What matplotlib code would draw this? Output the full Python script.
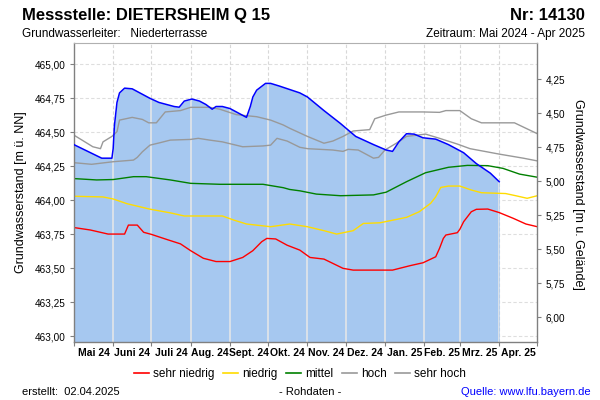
import matplotlib
matplotlib.use("Agg")
import matplotlib.pyplot as plt
import pandas as pd
from matplotlib.lines import Line2D
from matplotlib.ticker import FixedLocator, FuncFormatter, NullFormatter

plt.rcParams['font.family'] = ['Liberation Sans', 'DejaVu Sans']

# ---------------- data ----------------
mess_dates = ["2024-05-01", "2024-05-23", "2024-05-31", "2024-06-01", "2024-06-02", "2024-06-04",
              "2024-06-06", "2024-06-10", "2024-06-16", "2024-06-24", "2024-06-30", "2024-07-07",
              "2024-07-19", "2024-07-23", "2024-07-27", "2024-08-02", "2024-08-08", "2024-08-13",
              "2024-08-18", "2024-08-21", "2024-08-26", "2024-09-01", "2024-09-06", "2024-09-12",
              "2024-09-14", "2024-09-17", "2024-09-19", "2024-09-22", "2024-09-29", "2024-10-03",
              "2024-10-10", "2024-10-18", "2024-10-26", "2024-11-01", "2024-11-14", "2024-11-27",
              "2024-12-09", "2024-12-23", "2025-01-02", "2025-01-07", "2025-01-12", "2025-01-18",
              "2025-01-24", "2025-01-31", "2025-02-10", "2025-02-20", "2025-03-04", "2025-03-14",
              "2025-03-25", "2025-04-01"]
mess_values = [464.41, 464.31, 464.31, 464.38, 464.55, 464.72,
               464.79, 464.825, 464.82, 464.78, 464.75, 464.72,
               464.69, 464.685, 464.73, 464.745, 464.73, 464.705,
               464.67, 464.69, 464.69, 464.675, 464.65, 464.62,
               464.61, 464.69, 464.76, 464.81, 464.86, 464.86,
               464.84, 464.815, 464.79, 464.76, 464.66, 464.565,
               464.47, 464.41, 464.37, 464.36, 464.43, 464.49,
               464.487, 464.46, 464.45, 464.41, 464.35, 464.27,
               464.20, 464.137]

sehr_hoch_dates = ["2024-05-01", "2024-05-08", "2024-05-16", "2024-05-22", "2024-05-24", "2024-05-31",
                   "2024-06-04", "2024-06-06", "2024-06-16", "2024-06-24", "2024-06-29", "2024-07-05",
                   "2024-07-12", "2024-07-24", "2024-08-01", "2024-08-16", "2024-08-24", "2024-09-06",
                   "2024-09-22", "2024-10-03", "2024-10-13", "2024-10-18", "2024-11-01", "2024-11-14",
                   "2024-11-21", "2024-11-29", "2024-12-07", "2024-12-20", "2024-12-24", "2025-01-02",
                   "2025-01-12", "2025-01-31", "2025-02-13", "2025-02-18", "2025-03-01", "2025-03-10",
                   "2025-03-18", "2025-04-13", "2025-05-01"]
sehr_hoch_values = [464.48, 464.44, 464.394, 464.38, 464.43, 464.47,
                    464.505, 464.59, 464.61, 464.595, 464.57, 464.57,
                    464.65, 464.66, 464.684, 464.684, 464.67, 464.63,
                    464.615, 464.59, 464.554, 464.53, 464.47, 464.42,
                    464.436, 464.47, 464.51, 464.52, 464.60, 464.627,
                    464.65, 464.65, 464.647, 464.66, 464.66, 464.60,
                    464.57, 464.57, 464.49]

hoch_dates = ["2024-05-01", "2024-05-15", "2024-06-01", "2024-06-17", "2024-06-20", "2024-06-24",
              "2024-06-30", "2024-07-08", "2024-07-16", "2024-08-01", "2024-08-07", "2024-08-16",
              "2024-08-26", "2024-09-11", "2024-09-27", "2024-10-03", "2024-10-08", "2024-10-16",
              "2024-10-26", "2024-11-01", "2024-11-21", "2024-11-29", "2024-12-03", "2024-12-11",
              "2024-12-23", "2024-12-27", "2025-01-01", "2025-01-10", "2025-01-18", "2025-02-02",
              "2025-02-13", "2025-02-27", "2025-03-09", "2025-04-01", "2025-04-20", "2025-05-01"]
hoch_values = [464.277, 464.265, 464.284, 464.296, 464.316, 464.357,
               464.406, 464.424, 464.443, 464.448, 464.456, 464.443,
               464.43, 464.394, 464.40, 464.406, 464.456, 464.436,
               464.39, 464.38, 464.37, 464.36, 464.375, 464.37,
               464.31, 464.316, 464.37, 464.42, 464.47, 464.487,
               464.456, 464.414, 464.38, 464.34, 464.31, 464.29]

mittel_dates = ["2024-05-01", "2024-05-19", "2024-06-01", "2024-06-17", "2024-06-27", "2024-07-16",
                "2024-08-01", "2024-08-24", "2024-09-27", "2024-10-13", "2024-10-18", "2024-10-26",
                "2024-11-08", "2024-11-27", "2024-12-23", "2025-01-02", "2025-01-18", "2025-02-02",
                "2025-02-20", "2025-03-07", "2025-03-23", "2025-04-04", "2025-04-17", "2025-05-01"]
mittel_values = [464.16, 464.15, 464.153, 464.174, 464.174, 464.15,
                 464.125, 464.118, 464.118, 464.093, 464.08, 464.07,
                 464.046, 464.034, 464.04, 464.06, 464.137, 464.203,
                 464.243, 464.257, 464.255, 464.235, 464.193, 464.17]

niedrig_dates = ["2024-05-01", "2024-05-24", "2024-06-01", "2024-06-12", "2024-06-30", "2024-07-16",
                 "2024-07-27", "2024-08-26", "2024-09-04", "2024-09-14", "2024-10-03", "2024-10-18",
                 "2024-11-01", "2024-11-14", "2024-11-24", "2024-12-07", "2024-12-15", "2024-12-28",
                 "2025-01-05", "2025-01-18", "2025-01-28", "2025-02-06", "2025-02-10", "2025-02-14",
                 "2025-02-20", "2025-03-01", "2025-03-10", "2025-03-18", "2025-04-06", "2025-04-14",
                 "2025-04-23", "2025-05-01"]
niedrig_values = [464.03, 464.025, 464.01, 463.975, 463.935, 463.908,
                  463.885, 463.885, 463.855, 463.826, 463.806, 463.826,
                  463.806, 463.777, 463.752, 463.777, 463.83, 463.835,
                  463.85, 463.875, 463.916, 463.978, 464.026, 464.095,
                  464.105, 464.105, 464.076, 464.056, 464.05, 464.034,
                  464.015, 464.034]

sehr_niedrig_dates = ["2024-05-01", "2024-05-14", "2024-05-28", "2024-06-10", "2024-06-13", "2024-06-20",
                      "2024-06-25", "2024-07-01", "2024-07-13", "2024-07-24", "2024-08-01", "2024-08-11",
                      "2024-08-21", "2024-09-01", "2024-09-11", "2024-09-19", "2024-09-26", "2024-09-30",
                      "2024-10-07", "2024-10-16", "2024-10-26", "2024-11-03", "2024-11-14", "2024-11-29",
                      "2024-12-07", "2025-01-07", "2025-01-21", "2025-01-31", "2025-02-10", "2025-02-13",
                      "2025-02-16", "2025-02-18", "2025-02-27", "2025-03-01", "2025-03-04", "2025-03-10",
                      "2025-03-14", "2025-03-23", "2025-04-01", "2025-04-12", "2025-04-22", "2025-05-01"]
sehr_niedrig_values = [463.80, 463.782, 463.752, 463.752, 463.818, 463.818,
                       463.765, 463.75, 463.713, 463.68, 463.63, 463.574,
                       463.55, 463.55, 463.58, 463.63, 463.696, 463.72,
                       463.716, 463.67, 463.634, 463.58, 463.568, 463.50,
                       463.487, 463.487, 463.52, 463.541, 463.585, 463.647,
                       463.72, 463.745, 463.762, 463.787, 463.843, 463.916,
                       463.934, 463.936, 463.91, 463.868, 463.826, 463.806]

month_labels = ["Mai 24", "Juni 24", "Juli 24", "Aug. 24", "Sept. 24", "Okt. 24",
                "Nov. 24", "Dez. 24", "Jan. 25", "Feb. 25", "Mrz. 25", "Apr. 25"]
left_ticks = [463.00, 463.25, 463.50, 463.75, 464.00, 464.25, 464.50, 464.75, 465.00]
right_ticks = [4.25, 4.50, 4.75, 5.00, 5.25, 5.50, 5.75, 6.00]
gelaende = 469.14  # Geländehöhe [m ü. NN]
legend_labels = ["sehr niedrig", "niedrig", "mittel", "hoch", "sehr hoch"]

# ---------------- styling ----------------
W, H = 600, 400
fig = plt.figure(figsize=(6, 4), dpi=100)
x0, x1, ytop, ybot = 73.8, 537.3, 43, 341.5
ax = fig.add_axes([x0 / W, 1 - ybot / H, (x1 - x0) / W, (ybot - ytop) / H])

ymin, ymax = 462.962, 465.157
start, end = pd.Timestamp("2024-05-01"), pd.Timestamp("2025-05-01")
bounds = pd.date_range(start, end, freq="MS")
mids = [bounds[i] + (bounds[i + 1] - bounds[i]) / 2 for i in range(len(bounds) - 1)]

def fmt(v, pos=None):
    return f"{v:.2f}".replace(".", ",")

# dashed grid
for t in left_ticks:
    ax.axhline(t, color="#dedede", lw=0.8, ls=(0, (3, 2)), zorder=0.5)
for b in bounds[1:-1]:
    ax.axvline(b, color="#d8d8d8", lw=0.8, ls=(0, (3, 2)), zorder=0.5)

md = pd.to_datetime(mess_dates)
poly = ax.fill_between(md, mess_values, ymin - 1, color="#a6c8f0", lw=0, zorder=1)
clip = poly.get_paths()[0]
for b in bounds[1:-1]:
    ln = ax.axvline(b, color="#e8e8e8", lw=1.1, zorder=1.5)
    ln.set_clip_path(clip, ax.transData)

series = [
    (sehr_niedrig_dates, sehr_niedrig_values, "#ff0000"),
    (niedrig_dates, niedrig_values, "#ffdc00"),
    (mittel_dates, mittel_values, "#008000"),
    (hoch_dates, hoch_values, "#999999"),
    (sehr_hoch_dates, sehr_hoch_values, "#999999"),
]
for d, v, c in series:
    ax.plot(pd.to_datetime(d), v, color=c, lw=1.0, zorder=2)
ax.plot(md, mess_values, color="#0000ff", lw=1.1, zorder=3)

ax.set_xlim(start, end)
ax.set_ylim(ymin, ymax)

ax.xaxis.set_major_locator(FixedLocator([matplotlib.dates.date2num(m) for m in mids]))
ax.xaxis.set_major_formatter(FuncFormatter(lambda v, p: month_labels[p] if p is not None and p < len(month_labels) else ""))
ax.xaxis.set_minor_locator(FixedLocator([matplotlib.dates.date2num(b) for b in bounds]))
ax.xaxis.set_minor_formatter(NullFormatter())
ax.tick_params(axis="x", which="major", length=0, pad=5, labelsize=7.5)
ax.tick_params(axis="x", which="minor", length=3, width=0.8, color="#808080")
for lab in ax.get_xticklabels():
    lab.set_fontweight("bold")

ax.yaxis.set_major_locator(FixedLocator(left_ticks))
ax.yaxis.set_major_formatter(FuncFormatter(fmt))
ax.tick_params(axis="y", length=3, width=0.8, color="#808080", labelsize=7.2, pad=3)

for s in ["left", "right", "bottom"]:
    ax.spines[s].set_color("#808080")
    ax.spines[s].set_linewidth(1.0)
ax.spines["top"].set_color("#b0b0b0")
ax.spines["top"].set_linewidth(0.8)

ax2 = ax.twinx()
ax2.set_ylim(gelaende - ymin, gelaende - ymax)
ax2.yaxis.set_major_locator(FixedLocator(right_ticks))
ax2.yaxis.set_major_formatter(FuncFormatter(fmt))
ax2.tick_params(axis="y", length=3, width=0.8, color="#808080", labelsize=7.2, pad=3)
for s in ["left", "right", "bottom", "top"]:
    ax2.spines[s].set_visible(False)

# texts
fig.text(22 / W, 1 - 20 / H, "Messstelle: DIETERSHEIM Q 15", fontsize=12, fontweight="bold", va="baseline")
fig.text(585 / W, 1 - 20 / H, "Nr: 14130", fontsize=12, fontweight="bold", va="baseline", ha="right")
fig.text(22 / W, 1 - 37.3 / H, "Grundwasserleiter:   Niederterrasse", fontsize=8.5, va="baseline")
fig.text(585 / W, 1 - 37.3 / H, "Zeitraum: Mai 2024 - Apr 2025", fontsize=8.5, va="baseline", ha="right")
fig.text(21 / W, 1 - 192.5 / H, "Grundwasserstand [m ü. NN]", rotation=90, fontsize=9, va="center", ha="center")
fig.text(578 / W, 1 - 194 / H, "Grundwasserstand [m u. Gelände]", rotation=-90, fontsize=9, va="center", ha="center")

handles = [Line2D([], [], color=c, lw=1.2) for _, _, c in series]
fig.legend(handles, legend_labels, loc="center", bbox_to_anchor=(300 / W, 1 - 374 / H), ncol=5,
           frameon=False, fontsize=8.5, handlelength=1.25, handletextpad=0.35, columnspacing=0.75,
           borderpad=0, borderaxespad=0)

fig.text(21.7 / W, 1 - 392 / H, "erstellt:  02.04.2025", fontsize=8, va="center")
fig.text(310 / W, 1 - 392 / H, "- Rohdaten -", fontsize=8, va="center", ha="center")
fig.text(591 / W, 1 - 392 / H, "Quelle: www.lfu.bayern.de", fontsize=8, va="center", ha="right", color="#0000ff")

fig.savefig("out.png", dpi=100)
